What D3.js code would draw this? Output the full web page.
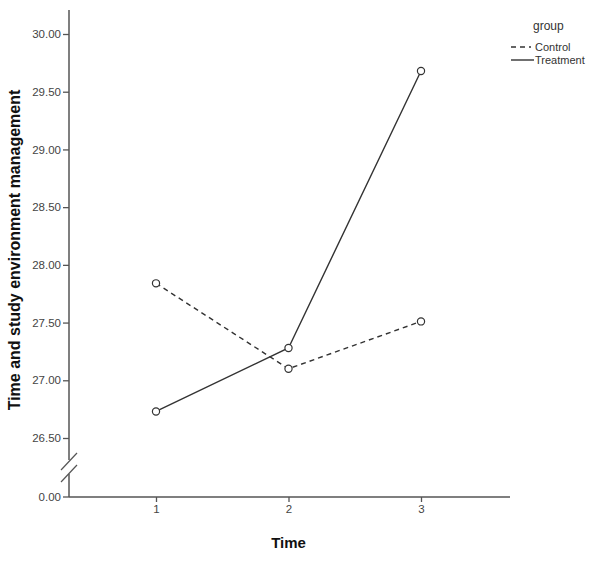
<!DOCTYPE html>
<html>
<head>
<meta charset="utf-8">
<script src="https://d3js.org/d3.v7.min.js"></script>
<style>
  body { margin: 0; background: #fff; }
  svg { font-family: "Liberation Sans", Arial, sans-serif; }
  .tick text { fill: #444; font-size: 11.5px; }
  .tick line { stroke: #555; stroke-width: 1.3; }
</style>
</head>
<body>
<div id="chart"></div>
<script>
// data
const times = [1, 2, 3];
const groups = ["Control", "Treatment"];
const controlMeans = [27.84, 27.10, 27.51];
const treatmentMeans = [26.73, 27.28, 29.68];
const yTicks = [26.5, 27.0, 27.5, 28.0, 28.5, 29.0, 29.5, 30.0];

const width = 596, height = 562;

const svg = d3.select("#chart").append("svg")
    .attr("width", width)
    .attr("height", height);

// scales
const x = d3.scaleLinear().domain([1, 3]).range([156, 421]);
const y = d3.scaleLinear().domain([26.5, 30]).range([438, 34]);
const yZero = 497;          // where the broken axis puts 0.00
const axisLeftX = 69, axisRightX = 510, axisTop = 10;

const axisColor = "#555";

// y axis (upper part)
svg.append("g")
    .attr("transform", "translate(" + axisLeftX + ",0)")
    .call(d3.axisLeft(y).tickValues(yTicks).tickSize(6).tickPadding(2)
        .tickFormat(d3.format(".2f")))
    .call(g => g.select(".domain").remove());

// the 0.00 tick below the break
const zeroTick = svg.append("g").attr("class", "tick")
    .attr("transform", "translate(" + axisLeftX + "," + yZero + ")");
zeroTick.append("line").attr("x1", -6).attr("x2", 0);
zeroTick.append("text").attr("x", -8).attr("dy", "0.32em")
    .attr("text-anchor", "end").text(d3.format(".2f")(0));

// y axis line with break
svg.append("line")
    .attr("x1", axisLeftX).attr("x2", axisLeftX)
    .attr("y1", axisTop).attr("y2", 460)
    .attr("stroke", axisColor).attr("stroke-width", 1.5);
svg.append("line")
    .attr("x1", axisLeftX).attr("x2", axisLeftX)
    .attr("y1", 474).attr("y2", yZero)
    .attr("stroke", axisColor).attr("stroke-width", 1.5);
[461.5, 473.5].forEach(c => {
  svg.append("line")
      .attr("x1", axisLeftX - 8).attr("y1", c + 8.5)
      .attr("x2", axisLeftX + 8).attr("y2", c - 8.5)
      .attr("stroke", axisColor).attr("stroke-width", 1.2);
});

// x axis
svg.append("g")
    .attr("transform", "translate(0," + yZero + ")")
    .call(d3.axisBottom(x).tickValues(times).tickSize(5).tickPadding(3)
        .tickFormat(d3.format("d")))
    .call(g => g.select(".domain").remove());
svg.append("line")
    .attr("x1", axisLeftX).attr("x2", axisRightX)
    .attr("y1", yZero).attr("y2", yZero)
    .attr("stroke", axisColor).attr("stroke-width", 1.5);

// axis titles
svg.append("text")
    .attr("x", x(2)).attr("y", 548)
    .attr("text-anchor", "middle")
    .attr("font-size", 15).attr("font-weight", "bold").attr("fill", "#111")
    .text("Time");
svg.append("text")
    .attr("transform", "translate(20,250) rotate(-90)")
    .attr("text-anchor", "middle")
    .attr("font-size", 16).attr("font-weight", "bold").attr("fill", "#111")
    .text("Time and study environment management");

// lines and markers
const series = [
  {name: groups[0], values: controlMeans, dash: "5,4"},
  {name: groups[1], values: treatmentMeans, dash: null}
];
const line = d3.line()
    .x((d, i) => x(times[i]))
    .y(d => y(d));

series.forEach(s => {
  svg.append("path")
      .attr("d", line(s.values))
      .attr("fill", "none")
      .attr("stroke", "#333")
      .attr("stroke-width", 1.4)
      .attr("stroke-dasharray", s.dash);
});
series.forEach(s => {
  svg.selectAll(null)
      .data(s.values)
      .enter().append("circle")
      .attr("cx", (d, i) => x(times[i]))
      .attr("cy", d => y(d))
      .attr("r", 3.6)
      .attr("fill", "#fff")
      .attr("stroke", "#333")
      .attr("stroke-width", 1.2);
});

// legend
const legend = svg.append("g").attr("transform", "translate(511,0)");
legend.append("text")
    .attr("x", 22).attr("y", 30)
    .attr("font-size", 12).attr("fill", "#333")
    .text("group");
series.forEach((s, i) => {
  const ly = 47 + i * 13;
  legend.append("line")
      .attr("x1", 0).attr("x2", i === 0 ? 20 : 23)
      .attr("y1", ly).attr("y2", ly)
      .attr("stroke", "#333").attr("stroke-width", 1.4)
      .attr("stroke-dasharray", s.dash);
  legend.append("text")
      .attr("x", 24).attr("y", ly).attr("dy", "0.35em")
      .attr("font-size", 11).attr("fill", "#333")
      .text(s.name);
});
</script>
</body>
</html>
